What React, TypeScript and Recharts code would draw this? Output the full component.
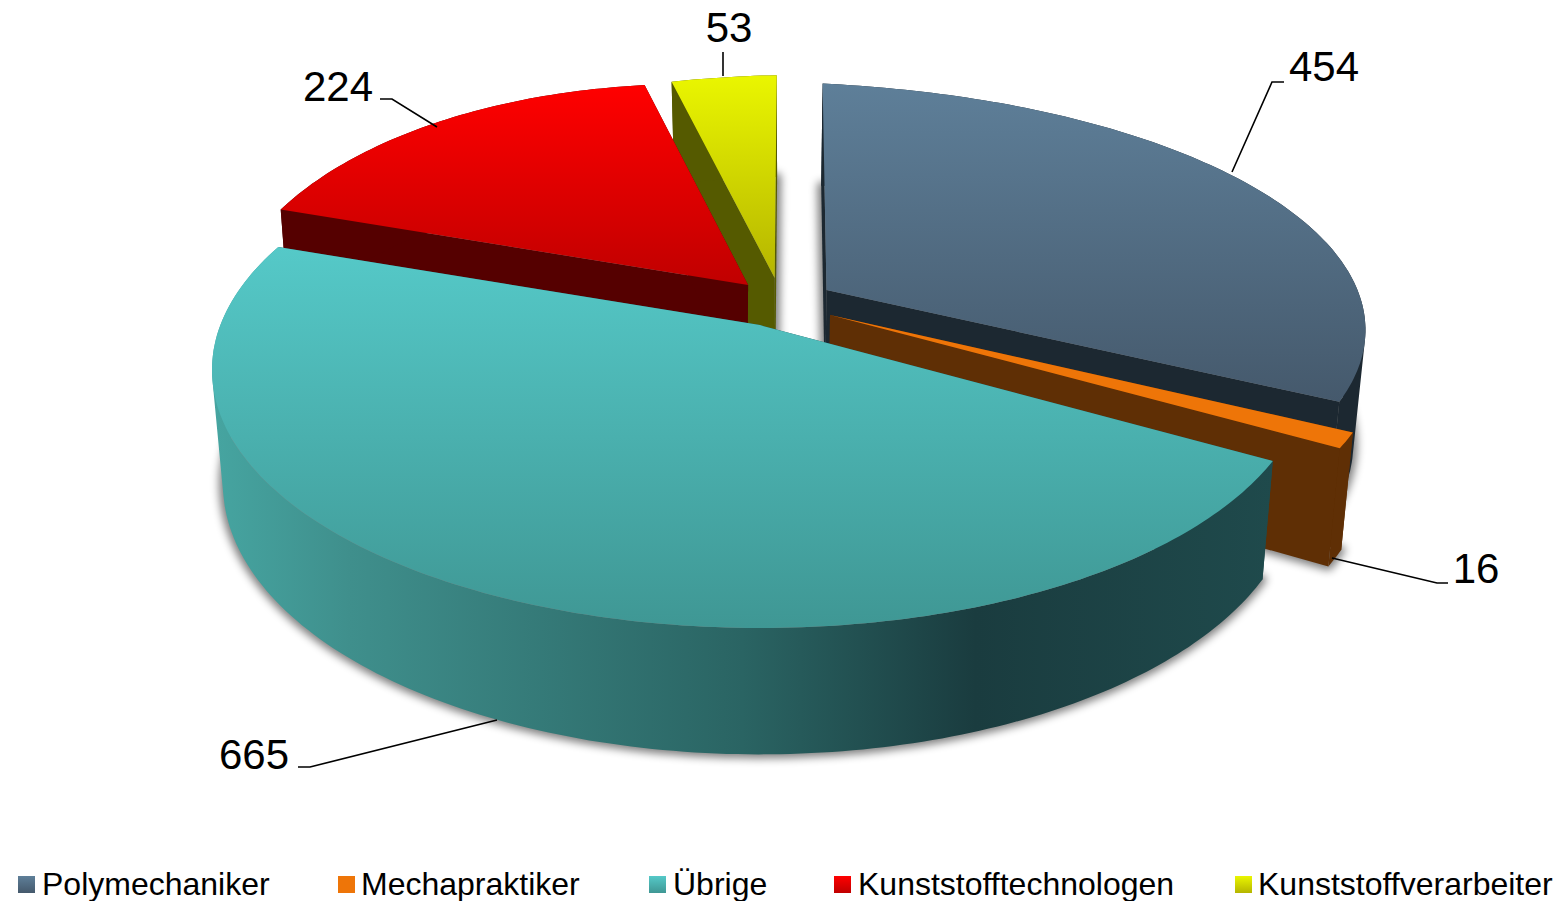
import React from 'react';
import { PieChart, Pie, Legend } from 'recharts';

const categories = ['Polymechaniker', 'Mechapraktiker', 'Übrige', 'Kunststofftechnologen', 'Kunststoffverarbeiter'];
const values = [454, 16, 665, 224, 53];
const chartData = categories.map((name, i) => ({ name, value: values[i] }));

const W = 1557, H = 901, FONT = '"Liberation Sans", Arial, sans-serif';
const CX = 790, CY = 350, R = 250;

// projection of each exploded slice: ellipse offset/scale, perspective point, apex
const slices = [
  { dx: -37, dy: -20, sx: 2.45, sy: 0.992, a: [0.12, -0.119], apex: [0.12, -0.161], top: 'url(#g0)', side: '#1c2831', cut: '#1c2831' },
  { dx: -21, dy: 10, sx: 2.44, sy: 1, a: [0.12, -0.119], apex: [0.1, -0.18], top: '#ee7508', side: '#5f2f05', cut: '#5f2f05' },
  { dx: -30, dy: 20, sx: 2.192, sy: 1.032, a: [0.12, -0.119], apex: [0, -0.174], top: 'url(#g2)', side: 'url(#gs)', cut: '#1f4a4c' },
  { dx: -100.5, dy: -26, sx: 1.86, sy: 0.96, a: [0.12, -0.119], apex: [0.126, -0.1625], top: 'url(#g3)', side: '#550000', cut: '#550000' },
  { dx: 9, dy: -22, sx: 2.21, sy: 1.012, a: [-0.044, -0.198], apex: [-0.044, -0.198], top: 'url(#g4)', side: '#555a00', cut: '#555a00' },
];
const paintOrder = [0, 1, 4, 3, 2];
const depth = { k: 0.98, q: 1.048, d: 114 };

const swatchFills = ['url(#l0)', '#ee7508', 'url(#l2)', 'url(#l3)', 'url(#l4)'];
const legendSwatchX = [18, 338, 649, 834, 1235];
const legendTextX = [42, 361, 673, 858, 1258];

// label: centre offset from chart centre plus leader polyline offsets
const labelLayout = [
  { x: 534, y: -269, line: [[442, -178], [482, -268], [494, -268]] },
  { x: 686, y: 233, line: [[542, 208], [647, 233], [658, 233]] },
  { x: -536, y: 419, line: [[-293, 370], [-480, 417], [-492, 417]] },
  { x: -452, y: -249, line: [[-353, -223], [-398, -251], [-410, -251]] },
  { x: -61, y: -308, line: [[-67, -274], [-67, -298]] },
];

const klein = (a: number[], p: number[]) => {
  const aa = a[0] * a[0] + a[1] * a[1];
  const n = Math.sqrt(aa);
  const h = [a[0] / n, a[1] / n];
  const dot = p[0] * h[0] + p[1] * h[1];
  const par = [dot * h[0], dot * h[1]];
  const perp = [p[0] - par[0], p[1] - par[1]];
  const s = Math.sqrt(1 - aa);
  const den = 1 + a[0] * p[0] + a[1] * p[1];
  return [(a[0] + par[0] + s * perp[0]) / den, (a[1] + par[1] + s * perp[1]) / den];
};

const toPath = (pts: number[][]) =>
  'M' + pts.map((p) => `${p[0].toFixed(1)},${p[1].toFixed(1)}`).join('L') + 'Z';

function geometry(i: number, props: any) {
  const s = slices[i];
  const ex = props.cx + s.dx, ey = props.cy + s.dy;
  const rx = props.outerRadius * s.sx, ry = props.outerRadius * s.sy;
  const t0 = 90 - props.startAngle, t1 = 90 - props.endAngle;
  const n = Math.max(2, Math.ceil(Math.abs(t1 - t0)));
  const rim: number[][] = [];
  for (let j = 0; j <= n; j++) {
    const th = ((t0 + ((t1 - t0) * j) / n) * Math.PI) / 180;
    const q = klein(s.a, [Math.sin(th), -Math.cos(th)]);
    rim.push([ex + q[0] * rx, ey + q[1] * ry]);
  }
  const apex = [ex + s.apex[0] * rx, ey + s.apex[1] * ry];
  const low = (p: number[]) => [ex + (p[0] - ex) * depth.k, ey + depth.d + (p[1] - ey) * depth.q];
  return { rim, apex, low };
}

// outer wall swept between the upper and lower rim, one quad per step
const sweptWall = (rim: number[][], low: (p: number[]) => number[]) => {
  let d = '';
  for (let j = 0; j < rim.length - 1; j++) {
    const a = rim[j], b = rim[j + 1];
    let quad = [a, b, low(b), low(a)];
    const area = quad.reduce((acc, p, k) => {
      const q = quad[(k + 1) % 4];
      return acc + p[0] * q[1] - q[0] * p[1];
    }, 0);
    if (area < 0) quad = quad.reverse();
    d += toPath(quad);
  }
  return d;
};

const makeShape = (layer: number) => (props: any) => {
  const i = props.index ?? categories.indexOf(props.name);
  if (layer === -1) {
    const { rim, apex, low } = geometry(i, props);
    const d = toPath([low(apex), ...rim.map(low)]);
    return <path d={d} fill="#000" stroke="#000" strokeWidth={8} strokeLinejoin="round" opacity={0.5} filter="url(#soft)" />;
  }
  if (i !== layer) return <g />;
  const { rim, apex, low } = geometry(i, props);
  const s = slices[i];
  const first = rim[0], last = rim[rim.length - 1];
  return (
    <g>
      <path d={toPath([apex, first, low(first), low(apex)])} fill={s.cut} />
      <path d={toPath([apex, last, low(last), low(apex)])} fill={s.cut} />
      <path d={sweptWall(rim, low)} fill={s.side} />
      <path d={toPath([apex, ...rim])} fill={s.top} />
    </g>
  );
};

const renderLabel = (props: any) => {
  const i = props.index;
  const l = labelLayout[i];
  return (
    <g key={i}>
      <polyline points={l.line.map((p) => `${CX + p[0]},${CY + p[1]}`).join(' ')} fill="none" stroke="#000" strokeWidth={1.6} />
      <text x={CX + l.x} y={CY + l.y} textAnchor="middle" fontFamily={FONT} fontSize={42} fill="#000">
        {values[i]}
      </text>
    </g>
  );
};

const renderLegend = () => (
  <svg width={W} height={41} style={{ display: 'block', overflow: 'visible' }}>
    <defs>
      {[['l0', '#5e7f99', '#45596c'], ['l2', '#55c9c8', '#3f9794'], ['l3', '#ff0000', '#c00000'], ['l4', '#eaf600', '#b5b500']].map((g) => (
        <linearGradient key={g[0]} id={g[0]} x1="0" y1="0" x2="0" y2="1">
          <stop offset="0" stopColor={g[1]} />
          <stop offset="1" stopColor={g[2]} />
        </linearGradient>
      ))}
    </defs>
    {categories.map((c, i) => (
      <g key={c}>
        <rect x={legendSwatchX[i]} y={16} width={17} height={17} fill={swatchFills[i]} />
        <text x={legendTextX[i]} y={35} fontFamily={FONT} fontSize={32} fill="#000">{c}</text>
      </g>
    ))}
  </svg>
);

const vGrad = (id: string, a: string, b: string) => (
  <linearGradient id={id} x1="0" y1="0" x2="0" y2="1">
    <stop offset="0" stopColor={a} />
    <stop offset="1" stopColor={b} />
  </linearGradient>
);

export default function App() {
  return (
    <div style={{ position: 'absolute', left: 0, top: 0, width: W, height: H, overflow: 'hidden', background: '#fff' }}>
      <PieChart width={W} height={H} margin={{ top: 0, right: 0, bottom: 0, left: 0 }}>
        <defs>
          {vGrad('g0', '#5e7f99', '#45596c')}
          {vGrad('g2', '#55c9c8', '#3f9794')}
          {vGrad('g3', '#ff0000', '#c00000')}
          {vGrad('g4', '#eaf600', '#b5b500')}
          <linearGradient id="gs" x1="0" y1="0" x2="1" y2="0">
            <stop offset="0" stopColor="#46a5a1" />
            <stop offset="0.13" stopColor="#3f8f8c" />
            <stop offset="0.5" stopColor="#2a6463" />
            <stop offset="0.72" stopColor="#1a3c3f" />
            <stop offset="1" stopColor="#1f4a4c" />
          </linearGradient>
          <filter id="soft" x="-20%" y="-20%" width="140%" height="140%">
            <feGaussianBlur stdDeviation="4" />
          </filter>
        </defs>
        {[-1, ...paintOrder].map((layer, idx) => (
          <Pie
            key={layer}
            data={chartData}
            dataKey="value"
            nameKey="name"
            cx={CX}
            cy={CY}
            outerRadius={R}
            startAngle={90}
            endAngle={-270}
            stroke="none"
            isAnimationActive={false}
            shape={makeShape(layer)}
            label={idx === paintOrder.length ? renderLabel : false}
            labelLine={false}
            legendType="none"
          />
        ))}
        <Legend content={renderLegend} wrapperStyle={{ position: 'absolute', left: 0, top: 860, width: W, height: 41 }} />
      </PieChart>
    </div>
  );
}
